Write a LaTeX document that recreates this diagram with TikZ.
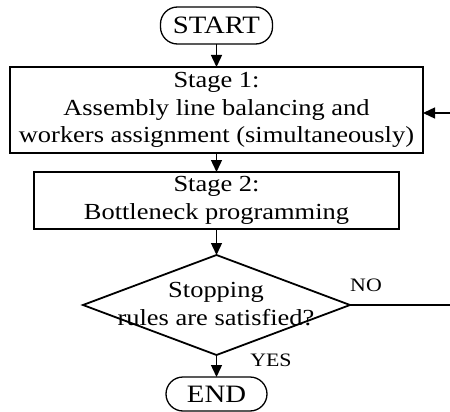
\documentclass[tikz,border=0pt]{standalone}
\usepackage{fontspec}
\setmainfont[FakeStretch=1.15]{Liberation Serif}
\usetikzlibrary{arrows.meta,shapes.geometric}
\begin{document}
\begin{tikzpicture}[x=1pt,y=-1pt,
  every node/.style={inner sep=0pt, outer sep=0pt},
  txt/.style={font=\fontsize{23}{27.5}\selectfont, align=center},
  term/.style={draw, line width=1.3pt, rounded corners=17pt, font=\fontsize{25}{27}\selectfont},
  stagebox/.style={draw, line width=1.3pt, txt},
  dia/.style={draw, shape=diamond, line width=1.8pt, minimum width=267pt, minimum height=100pt},
  lab/.style={font=\fontsize{19}{22}\selectfont},
  conn/.style={line width=1.4pt, -{Triangle[length=12pt,width=11pt]}},
  plain/.style={line width=1.4pt}
]
\useasboundingbox (0,0) rectangle (450,412);
\clip (0,0) rectangle (450,412);
\node[term, minimum width=112pt, minimum height=37pt] (start) at (216.5,25.5) {START};
\node[stagebox, minimum width=413pt, minimum height=86pt] (s1) at (216.5,110)
  {Stage 1:\\Assembly line balancing and\\workers assignment (simultaneously)};
\node[stagebox, minimum width=365pt, minimum height=57pt] (s2) at (216.5,200.5)
  {Stage 2:\\Bottleneck programming};
\node[dia] (dec) at (216.5,305) {};
\node[txt] (dectext) at (216,304) {Stopping\\rules are satisfied?};
\node[term, minimum width=101pt, minimum height=34pt] (end) at (216.5,394) {END};
\node[lab] (no) at (366,285) {NO};
\node[lab] (yes) at (271,360) {YES};
\coordinate (r1) at (453,305);
\coordinate (r2) at (453,113);
\draw[conn] (start) -- (s1);
\draw[conn] (s1) -- (s2);
\draw[conn] (s2) -- (dec.north);
\draw[conn] (dec.south) -- (end);
\draw[plain] (dec.east) -- (r1) -- (r2);
\draw[conn] (r2) -- (s1.east |- r2);
\end{tikzpicture}
\end{document}
